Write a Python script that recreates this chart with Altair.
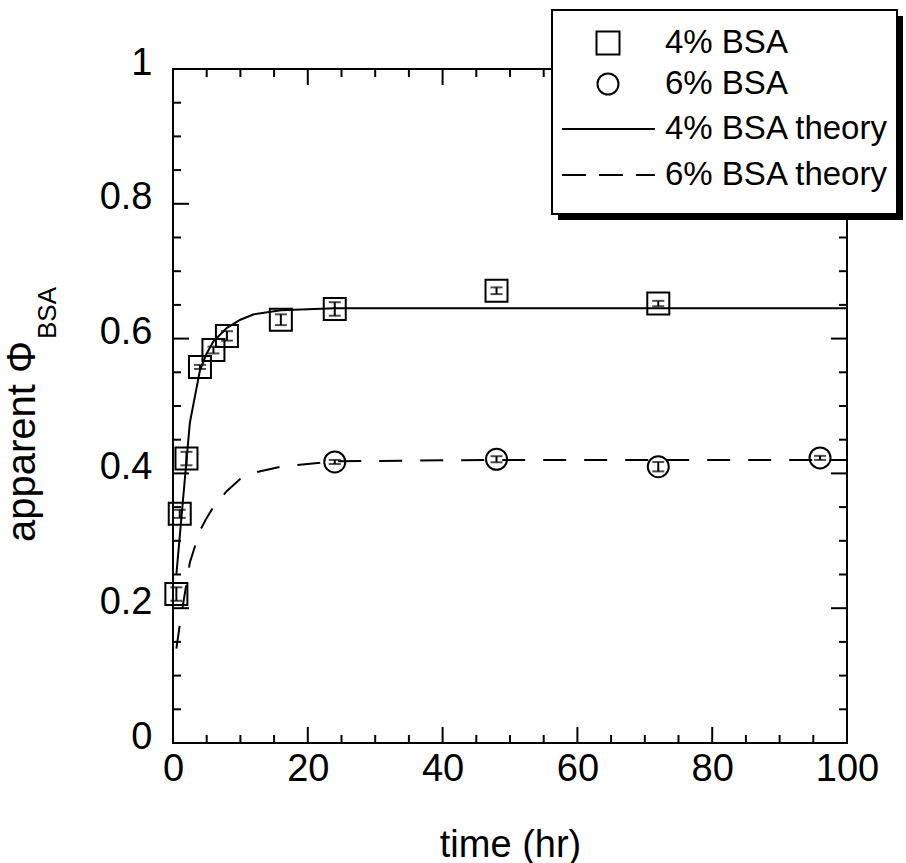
import altair as alt
import pandas as pd

# ---------------- data ----------------
t_4 = [0.5, 1, 2, 4, 6, 8, 16, 24, 48, 72]
phi_4 = [0.221, 0.340, 0.422, 0.558, 0.583, 0.604, 0.628, 0.644, 0.671, 0.652]
err_4 = [0.010, 0.006, 0.010, 0.003, 0.005, 0.007, 0.008, 0.010, 0.005, 0.004]

t_6 = [24, 48, 72, 96]
phi_6 = [0.417, 0.421, 0.410, 0.423]
err_6 = [0.003, 0.0045, 0.007, 0.003]

t_th4 = [0.5, 2.5, 4, 5, 6, 8, 10, 12, 16, 24, 48, 72, 100]
phi_th4 = [0.25, 0.475, 0.553, 0.578, 0.596, 0.616, 0.628, 0.636, 0.642, 0.645, 0.645, 0.645, 0.645]

t_th6 = [0.5, 1, 2.5, 4, 5, 6, 8, 10, 12, 16, 24, 48, 72, 100]
phi_th6 = [0.14, 0.175, 0.268, 0.315, 0.334, 0.35, 0.374, 0.392, 0.401, 0.41, 0.418, 0.42, 0.42, 0.42]

legend_labels = ["4% BSA", "6% BSA", "4% BSA theory", "6% BSA theory"]

x_major = [0, 20, 40, 60, 80, 100]
x_minor = [5, 10, 15, 25, 30, 35, 45, 50, 55, 65, 70, 75, 85, 90, 95]
y_major = [0, 0.2, 0.4, 0.6, 0.8, 1.0]
y_minor = [0.05, 0.1, 0.15, 0.25, 0.3, 0.35, 0.45, 0.5, 0.55, 0.65, 0.7, 0.75, 0.85, 0.9, 0.95]

# ---------------- layout ----------------
W = 674
H = 674
FONT = "Liberation Sans"

xscale = alt.Scale(domain=[0, 100], nice=False, zero=False)
yscale = alt.Scale(domain=[0, 1], nice=False, zero=False)

df4 = pd.DataFrame({"t": t_4, "phi": phi_4, "lo": [p - e for p, e in zip(phi_4, err_4)],
                    "hi": [p + e for p, e in zip(phi_4, err_4)]})
df6 = pd.DataFrame({"t": t_6, "phi": phi_6, "lo": [p - e for p, e in zip(phi_6, err_6)],
                    "hi": [p + e for p, e in zip(phi_6, err_6)]})
dth4 = pd.DataFrame({"t": t_th4, "phi": phi_th4})
dth6 = pd.DataFrame({"t": t_th6, "phi": phi_th6})

dummy = alt.Data(values=[{"a": 1}])

# base with axes
base = alt.Chart(dth4).mark_line(color="black", strokeWidth=2).encode(
    x=alt.X("t:Q", scale=xscale,
            axis=alt.Axis(title="time (hr)", values=x_major, format="d", domain=False, ticks=False,
                          grid=False, labelFont=FONT, labelFontSize=38, labelColor="black",
                          labelPadding=7, labelFlush=False, labelOverlap=False,
                          titleFont=FONT, titleFontSize=38, titleFontWeight="normal",
                          titleColor="black", titlePadding=38)),
    y=alt.Y("phi:Q", scale=yscale,
            axis=alt.Axis(title=None, values=y_major, format="~g", domain=False, ticks=False,
                          grid=False, labelFont=FONT, labelFontSize=38, labelColor="black",
                          labelPadding=21, labelOffset=-6, labelFlush=False, labelOverlap=False)),
)

line6 = alt.Chart(dth6).mark_line(color="black", strokeWidth=2, strokeDash=[23, 18]).encode(
    x=alt.X("t:Q", scale=xscale), y=alt.Y("phi:Q", scale=yscale))

layers = [base, line6]

# inward ticks on all four sides
def xticks(vals, length):
    d = pd.DataFrame({"v": vals})
    bot = alt.Chart(d).mark_rule(color="black", strokeWidth=2).encode(
        x=alt.X("v:Q", scale=xscale), y=alt.value(H), y2=alt.value(H - length))
    top = alt.Chart(d).mark_rule(color="black", strokeWidth=2).encode(
        x=alt.X("v:Q", scale=xscale), y=alt.value(0), y2=alt.value(length))
    return [bot, top]

def yticks(vals, length):
    d = pd.DataFrame({"v": vals})
    left = alt.Chart(d).mark_rule(color="black", strokeWidth=2).encode(
        y=alt.Y("v:Q", scale=yscale), x=alt.value(0), x2=alt.value(length))
    right = alt.Chart(d).mark_rule(color="black", strokeWidth=2).encode(
        y=alt.Y("v:Q", scale=yscale), x=alt.value(W), x2=alt.value(W - length))
    return [left, right]

layers += xticks(x_major, 16) + xticks(x_minor, 8) + yticks(y_major, 16) + yticks(y_minor, 8)

# error bars
for df in (df4, df6):
    layers.append(alt.Chart(df).mark_rule(color="black", strokeWidth=2).encode(
        x=alt.X("t:Q", scale=xscale), y=alt.Y("lo:Q", scale=yscale), y2="hi:Q"))
    layers.append(alt.Chart(df).mark_tick(color="black", orient="horizontal", size=12, thickness=2).encode(
        x=alt.X("t:Q", scale=xscale), y=alt.Y("lo:Q", scale=yscale)))
    layers.append(alt.Chart(df).mark_tick(color="black", orient="horizontal", size=12, thickness=2).encode(
        x=alt.X("t:Q", scale=xscale), y=alt.Y("hi:Q", scale=yscale)))

# markers
layers.append(alt.Chart(df4).mark_point(shape="square", size=484, filled=False, color="black",
                                        strokeWidth=2, opacity=1).encode(
    x=alt.X("t:Q", scale=xscale), y=alt.Y("phi:Q", scale=yscale)))
layers.append(alt.Chart(df6).mark_point(shape="circle", size=441, filled=False, color="black",
                                        strokeWidth=2, opacity=1).encode(
    x=alt.X("t:Q", scale=xscale), y=alt.Y("phi:Q", scale=yscale)))

# legend box with shadow
layers.append(alt.Chart(dummy).mark_rect(color="black").encode(
    x=alt.value(385), x2=alt.value(730), y=alt.value(-53), y2=alt.value(151)))
layers.append(alt.Chart(dummy).mark_rect(fill="white", stroke="black", strokeWidth=2).encode(
    x=alt.value(379), x2=alt.value(724), y=alt.value(-59), y2=alt.value(145)))

rows = [-26, 15, 60, 106]
layers.append(alt.Chart(dummy).mark_point(shape="square", size=529, filled=False, color="black",
                                          strokeWidth=2, opacity=1).encode(
    x=alt.value(435), y=alt.value(rows[0])))
layers.append(alt.Chart(dummy).mark_point(shape="circle", size=441, filled=False, color="black",
                                          strokeWidth=2, opacity=1).encode(
    x=alt.value(435), y=alt.value(rows[1])))
layers.append(alt.Chart(dummy).mark_rule(color="black", strokeWidth=2).encode(
    x=alt.value(389), x2=alt.value(482), y=alt.value(rows[2])))
layers.append(alt.Chart(dummy).mark_rule(color="black", strokeWidth=2, strokeDash=[24, 13]).encode(
    x=alt.value(389), x2=alt.value(482), y=alt.value(rows[3])))
for lab, ry in zip(legend_labels, rows):
    layers.append(alt.Chart(dummy).mark_text(align="left", baseline="middle", font=FONT,
                                             fontSize=33, color="black").encode(
        x=alt.value(492), y=alt.value(ry), text=alt.value(lab)))

# y-axis title with subscript
layers.append(alt.Chart(dummy).mark_text(align="left", baseline="middle", angle=270, font=FONT,
                                         fontSize=40, color="black").encode(
    x=alt.value(-150), y=alt.value(473), text=alt.value("apparent Φ")))
layers.append(alt.Chart(dummy).mark_text(align="left", baseline="middle", angle=270, font=FONT,
                                         fontSize=26, color="black").encode(
    x=alt.value(-125), y=alt.value(270), text=alt.value("BSA")))

chart = alt.layer(*layers).properties(
    width=W, height=H,
    autosize=alt.AutoSizeParams(type="none"),
    padding={"left": 173, "top": 69, "right": 59, "bottom": 120},
    background="white",
).configure_view(stroke="black", strokeWidth=2)

chart.save("out.html", embed_options={"renderer": "svg", "actions": False})
